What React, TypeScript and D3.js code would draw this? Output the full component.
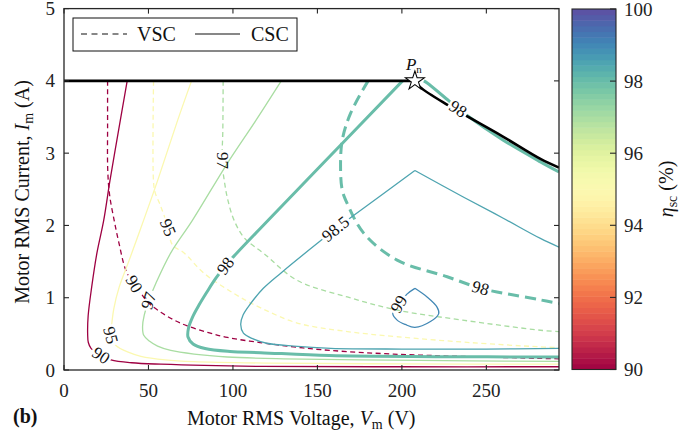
import React from 'react';
import * as d3 from 'd3';

type Pt = [number, number];

// ---------------- data ----------------
const xTicks = [0, 50, 100, 150, 200, 250];
const yTicks = [0, 1, 2, 3, 4, 5];
const colorTicks = [90, 92, 94, 96, 98, 100];
const legendNames = ['VSC', 'CSC'];

const ratedPoint: Pt = [207.7, 4.0];
const currentLimit: Pt[] = [[0, 4.0], [207.7, 4.0]];
const powerLimit: Pt[] = [[207.7, 4.0], [211, 3.91], [227.5, 3.66], [258.3, 3.25], [282, 2.92], [293, 2.8]];

// VSC contours (dashed)
const vsc90: Pt[] = [[25.8, 4.0], [25.8, 3.4], [25.9, 2.76], [27.0, 2.42], [29.7, 2.07], [32.5, 1.76], [36.6, 1.38], [41.4, 1.18], [45.5, 1.06], [50.4, 0.92], [57.3, 0.8], [65.2, 0.69], [73, 0.61], [85, 0.52], [96.7, 0.45], [116, 0.38], [136, 0.32], [158, 0.27], [195, 0.22], [240, 0.185], [293, 0.155]];
const vsc95: Pt[] = [[53.0, 4.0], [53.0, 2.6], [54, 2.45], [57, 2.28], [61.5, 1.98], [64.2, 1.73], [71.1, 1.62], [82.8, 1.34], [100.5, 1.06], [116.4, 0.86], [138.1, 0.65], [165, 0.54], [197.2, 0.46], [240, 0.38], [282, 0.32], [293, 0.31]];
const vsc97: Pt[] = [[94.2, 4.0], [94.0, 3.3], [93.6, 2.88], [95, 2.6], [97, 2.35], [100.7, 2.07], [107, 1.82], [118.4, 1.61], [138, 1.24], [167.7, 1.01], [197, 0.83], [236, 0.69], [282, 0.55], [293, 0.53]];
const vsc98: Pt[] = [[180, 4.0], [169.6, 3.55], [164.7, 3.18], [163.7, 2.81], [164.7, 2.49], [167.7, 2.3], [177.5, 1.89], [197.2, 1.52], [226.8, 1.29], [246.5, 1.13], [256.3, 1.08], [282, 0.97], [293, 0.92]];

// CSC contours (solid)
const csc90: Pt[] = [[37.4, 4.0], [33.3, 3.45], [27.2, 2.62], [23.5, 2.07], [19.5, 1.62], [16.4, 1.15], [14.3, 0.75], [14.0, 0.5], [14.4, 0.38], [16, 0.3], [21.9, 0.2], [27.8, 0.14], [40, 0.1], [57.3, 0.08], [116.4, 0.05], [200, 0.045], [293, 0.045]];
const csc95: Pt[] = [[75.5, 4.0], [67.2, 3.45], [55.4, 2.62], [47.1, 2.07], [38.6, 1.52], [32.7, 1.15], [29.5, 0.85], [28.2, 0.62], [27.8, 0.5], [29, 0.4], [30.7, 0.34], [37.6, 0.25], [45.5, 0.19], [60, 0.14], [76.9, 0.115], [120, 0.095], [200, 0.085], [293, 0.08]];
const csc97: Pt[] = [[128.6, 4.0], [113.5, 3.45], [96.7, 2.86], [76, 2.07], [63.2, 1.62], [54.4, 1.2], [50.5, 0.98], [47.5, 0.76], [46.5, 0.6], [47.2, 0.48], [50.5, 0.4], [55.4, 0.33], [63.2, 0.27], [77, 0.22], [96.7, 0.18], [130, 0.155], [175, 0.14], [240, 0.127], [293, 0.12]];
const csc98Left: Pt[] = [[200.4, 4.0], [151.5, 2.815], [102.2, 1.615], [95.9, 1.453], [90.0, 1.273], [84.6, 1.079], [79.9, 0.899], [76.1, 0.733], [73.7, 0.581], [73.4, 0.457], [76.4, 0.36], [83.5, 0.297], [98.3, 0.256], [116.4, 0.24], [157, 0.2], [220, 0.185], [293, 0.18]];
const csc98Right: Pt[] = [[213, 4.0], [215, 3.97], [227.5, 3.73], [233.2, 3.62], [238.6, 3.52], [260, 3.18], [282, 2.88], [293, 2.74]];
const csc985Left: Pt[] = [[207.7, 2.76], [171.6, 2.14], [160.8, 1.95], [150.9, 1.77], [128.3, 1.34], [118, 1.13], [110.5, 0.92], [106, 0.76], [104.6, 0.63], [106.2, 0.51], [112, 0.43], [120, 0.37], [136, 0.33], [158, 0.3], [200, 0.29], [250, 0.29], [293, 0.3]];
const csc985Right: Pt[] = [[207.7, 2.76], [236.6, 2.39], [260, 2.1], [282, 1.82], [293, 1.7]];
const csc99: Pt[] = [[207.7, 1.13], [203, 1.05], [198, 0.9], [194.6, 0.78], [197.2, 0.69], [202, 0.63], [207.7, 0.59], [216.9, 0.67], [221.8, 0.78], [220.8, 0.87], [214.9, 1.01], [207.7, 1.13]];

const contourLines = [
  { id: 'v90', level: 90, kind: 'VSC', pts: vsc90 },
  { id: 'v95', level: 95, kind: 'VSC', pts: vsc95 },
  { id: 'v97', level: 97, kind: 'VSC', pts: vsc97 },
  { id: 'v98', level: 98, kind: 'VSC', pts: vsc98 },
  { id: 'c90', level: 90, kind: 'CSC', pts: csc90 },
  { id: 'c95', level: 95, kind: 'CSC', pts: csc95 },
  { id: 'c97', level: 97, kind: 'CSC', pts: csc97 },
  { id: 'c98a', level: 98, kind: 'CSC', pts: csc98Left },
  { id: 'c98b', level: 98, kind: 'CSC', pts: csc98Right },
  { id: 'c985a', level: 98.5, kind: 'CSC', pts: csc985Left },
  { id: 'c985b', level: 98.5, kind: 'CSC', pts: csc985Right },
  { id: 'c99', level: 99, kind: 'CSC', pts: csc99 },
];

// inline contour labels: line ids, text, position (V, I), rotation
const contourLabels = [
  { lines: ['c90'], text: '90', v: 21.9, i: 0.2, angle: 33 },
  { lines: ['v90'], text: '90', v: 41.4, i: 1.19, angle: 60 },
  { lines: ['c95'], text: '95', v: 27.5, i: 0.48, angle: 75 },
  { lines: ['v95'], text: '95', v: 61.5, i: 1.97, angle: 68 },
  { lines: ['c97'], text: '97', v: 50.2, i: 0.96, angle: -72 },
  { lines: ['v97'], text: '97', v: 93.7, i: 2.9, angle: 90 },
  { lines: ['c98a'], text: '98', v: 95.6, i: 1.44, angle: -54 },
  { lines: ['c98b', 'limit'], text: '98', v: 233.2, i: 3.61, angle: 33 },
  { lines: ['v98'], text: '98', v: 246.5, i: 1.13, angle: 16 },
  { lines: ['c985a'], text: '98.5', v: 160.8, i: 1.95, angle: -39 },
  { lines: ['c99'], text: '99', v: 198.3, i: 0.91, angle: -60 },
];

// ---------------- chart ----------------
const W = 697;
const H = 432;
const FONT = "'Liberation Serif', 'Times New Roman', serif";

export default function App() {
  const left = 64, right = 559, top = 8.6, bottom = 370;
  const x = d3.scaleLinear().domain([0, 293]).range([left, right]);
  const y = d3.scaleLinear().domain([0, 5]).range([bottom, top]);
  const cbX0 = 572, cbX1 = 616;
  const cy = d3.scaleLinear().domain([90, 100]).range([369.5, 9]);
  const col = (v: number) => d3.interpolateSpectral((v - 90) / 10);
  const curve = d3.line<Pt>().x(d => x(d[0])).y(d => y(d[1])).curve(d3.curveCatmullRom.alpha(0.5));
  const straight = d3.line<Pt>().x(d => x(d[0])).y(d => y(d[1]));
  const labelFs = 17;
  const axisCol = '#262626';

  const textW = (t: string) => t.split('').reduce((s, c) => s + (c === '.' ? 0.25 : 0.5) * labelFs, 0);

  const maskFor = (id: string) => {
    const labs = contourLabels.filter(l => l.lines.includes(id));
    return (
      <mask id={`m-${id}`} key={id} maskUnits="userSpaceOnUse" x={0} y={0} width={W} height={H}>
        <rect x={0} y={0} width={W} height={H} fill="white" />
        {labs.map((l, k) => {
          const w = textW(l.text) + 4;
          const h = labelFs * 0.78;
          return (
            <rect key={k} x={-w / 2} y={-h / 2} width={w} height={h} fill="black"
              transform={`translate(${x(l.v)},${y(l.i)}) rotate(${l.angle})`} />
          );
        })}
      </mask>
    );
  };

  const bandN = 64;
  const bands = d3.range(bandN).map(k => {
    const v0 = 90 + (k * 10) / bandN;
    const v1 = 90 + ((k + 1) * 10) / bandN;
    return { v0, v1, c: col((v0 + v1) / 2) };
  });

  const starPath = d3.symbol().type(d3.symbolStar).size(110)() as string;

  return (
    <svg width={W} height={H} style={{ position: 'absolute', left: 0, top: 0, background: '#fff' }}
      fontFamily={FONT}>
      <defs>
        <clipPath id="plotClip">
          <rect x={left} y={top} width={right - left} height={bottom - top} />
        </clipPath>
        {contourLines.map(c => maskFor(c.id))}
        {maskFor('limit')}
      </defs>

      {/* contour lines */}
      <g clipPath="url(#plotClip)">
        {contourLines.map(c => (
          <g key={c.id} mask={`url(#m-${c.id})`}>
            <path d={curve(c.pts) as string} fill="none" stroke={col(c.level)}
              strokeWidth={c.level === 98 ? 3 : 1.3}
              strokeDasharray={c.kind === 'VSC' ? (c.level === 98 ? '11,6' : '5,3.5') : undefined}
              strokeLinejoin="round" />
          </g>
        ))}
        <g mask="url(#m-limit)">
          <path d={straight(currentLimit) as string} fill="none" stroke="#000" strokeWidth={2.6} />
          <path d={curve(powerLimit) as string} fill="none" stroke="#000" strokeWidth={2.6} />
        </g>
      </g>

      {/* contour labels */}
      {contourLabels.map((l, k) => (
        <text key={k} transform={`translate(${x(l.v)},${y(l.i)}) rotate(${l.angle})`}
          textAnchor="middle" dominantBaseline="central" fontSize={labelFs} fill="#111">
          {l.text}
        </text>
      ))}

      {/* rated point */}
      <path d={starPath} transform={`translate(${x(ratedPoint[0])},${y(ratedPoint[1])})`}
        fill="#fff" stroke="#000" strokeWidth={1.1} strokeLinejoin="miter" />
      <text x={x(ratedPoint[0]) - 9} y={y(ratedPoint[1]) - 11} fontSize={17} fill="#111">
        <tspan fontStyle="italic">P</tspan>
        <tspan fontSize={11} dy={3}>n</tspan>
      </text>

      {/* axes frame */}
      <rect x={left} y={top} width={right - left} height={bottom - top} fill="none" stroke={axisCol} strokeWidth={1.3} />
      {xTicks.map(t => (
        <g key={`xt${t}`}>
          <line x1={x(t)} x2={x(t)} y1={bottom} y2={bottom - 5} stroke={axisCol} strokeWidth={1.1} />
          <line x1={x(t)} x2={x(t)} y1={top} y2={top + 5} stroke={axisCol} strokeWidth={1.1} />
          <text x={x(t)} y={397} textAnchor="middle" fontSize={19} fill="#222">{t}</text>
        </g>
      ))}
      {yTicks.map(t => (
        <g key={`yt${t}`}>
          <line x1={left} x2={left + 5} y1={y(t)} y2={y(t)} stroke={axisCol} strokeWidth={1.1} />
          <line x1={right} x2={right - 5} y1={y(t)} y2={y(t)} stroke={axisCol} strokeWidth={1.1} />
          <text x={55} y={y(t) + 6.5} textAnchor="end" fontSize={19} fill="#222">{t}</text>
        </g>
      ))}

      {/* axis titles */}
      <text x={187} y={425} fontSize={20} fill="#111">
        Motor RMS Voltage, <tspan fontStyle="italic">V</tspan>
        <tspan fontSize={14} dy={4}>m</tspan>
        <tspan dy={-4}> (V)</tspan>
      </text>
      <text transform="translate(29,192) rotate(-90)" textAnchor="middle" fontSize={20} fill="#111">
        Motor RMS Current, <tspan fontStyle="italic">I</tspan>
        <tspan fontSize={14} dy={4}>m</tspan>
        <tspan dy={-4}> (A)</tspan>
      </text>
      <text x={13} y={423} fontSize={20} fontWeight="bold" fill="#111">(b)</text>

      {/* legend */}
      <g>
        <rect x={73} y={18} width={224} height={33} fill="#fff" stroke="#111" strokeWidth={1} />
        <line x1={81} x2={127} y1={34} y2={34} stroke="#111" strokeWidth={1.1} strokeDasharray="6,4.5" />
        <text x={137} y={41} fontSize={20} fill="#111">{legendNames[0]}</text>
        <line x1={195} x2={240} y1={34} y2={34} stroke="#111" strokeWidth={1.1} />
        <text x={251} y={41} fontSize={20} fill="#111">{legendNames[1]}</text>
      </g>

      {/* colorbar */}
      <g>
        {bands.map((b, k) => (
          <rect key={k} x={cbX0} y={cy(b.v1)} width={cbX1 - cbX0} height={cy(b.v0) - cy(b.v1) + 0.5} fill={b.c} />
        ))}
        <rect x={cbX0} y={cy(100)} width={cbX1 - cbX0} height={cy(90) - cy(100)} fill="none" stroke={axisCol} strokeWidth={1.1} />
        {colorTicks.map(t => (
          <g key={`ct${t}`}>
            <line x1={cbX1} x2={cbX1 - 6} y1={cy(t)} y2={cy(t)} stroke={axisCol} strokeWidth={1.1} />
            <text x={624} y={cy(t) + 6.5} fontSize={19} fill="#222">{t}</text>
          </g>
        ))}
        <text transform="translate(673,189) rotate(-90)" textAnchor="middle" fontSize={20} fill="#111">
          <tspan fontStyle="italic">η</tspan>
          <tspan fontSize={14} dy={4}>sc</tspan>
          <tspan dy={-4}> (%)</tspan>
        </text>
      </g>
    </svg>
  );
}
